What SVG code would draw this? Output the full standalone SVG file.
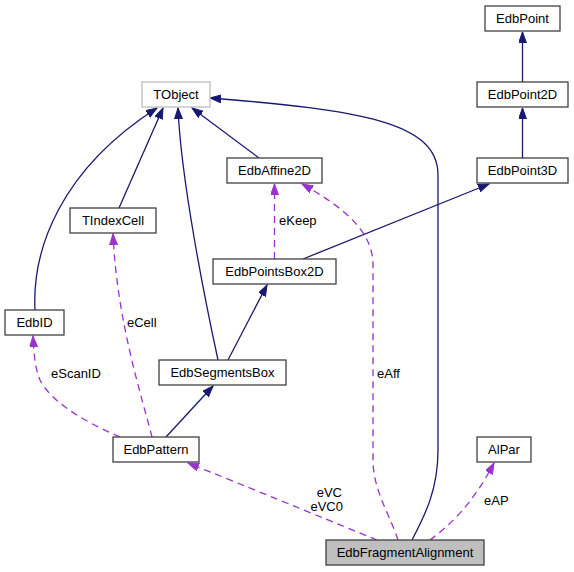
<svg xmlns="http://www.w3.org/2000/svg" width="574" height="572" viewBox="0 0 574 572">
<style>
.n rect{fill:#fff;stroke:#404040;stroke-width:1.3}
.n text{font-family:"Liberation Sans",Arial,sans-serif;font-size:13px;fill:#000;text-anchor:middle}
.e path{fill:none}
.inh{stroke:#191970;stroke-width:1.3}
.use{stroke:#9a32cd;stroke-width:1.3;stroke-dasharray:7,5}
.lbl{font-family:"Liberation Sans",Arial,sans-serif;font-size:13px;fill:#000}
</style>
<defs>
<marker id="an" markerUnits="userSpaceOnUse" markerWidth="12" markerHeight="9" refX="11" refY="4" orient="auto"><path d="M0,0 L11,4 L0,8 z" fill="#191970" stroke="#191970"/></marker>
<marker id="ap" markerUnits="userSpaceOnUse" markerWidth="12" markerHeight="9" refX="11" refY="4" orient="auto"><path d="M0,0 L11,4 L0,8 z" fill="#9a32cd" stroke="#9a32cd"/></marker>
</defs>
<rect width="574" height="572" fill="#fff"/>
<g id="edges" class="e">
<path class="inh" d="M522.5,82 L522.5,32" marker-end="url(#an)"/>
<path class="inh" d="M522.5,158 L522.5,108" marker-end="url(#an)"/>
<path class="inh" d="M303,259 L489,184" marker-end="url(#an)"/>
<path class="inh" d="M259,158 L192,108" marker-end="url(#an)"/>
<path class="inh" d="M218,360 C205,300 181,180 178,108" marker-end="url(#an)"/>
<path class="inh" d="M119,208 L163,108" marker-end="url(#an)"/>
<path class="inh" d="M35,310 C32,250 60,170 157,108" marker-end="url(#an)"/>
<path class="inh" d="M412,540 C425,515 438,490 438,450 L438,175 C438,122 360,110 210,98" marker-end="url(#an)"/>
<path class="inh" d="M228,360 L267,285" marker-end="url(#an)"/>
<path class="inh" d="M166,437 L213,386" marker-end="url(#an)"/>
<path class="use" d="M274.5,259 L274.5,184" marker-end="url(#ap)"/>
<path class="use" d="M398,540 C390,515 373,490 373,460 L373,265 C373,232 345,208 302,184" marker-end="url(#ap)"/>
<path class="use" d="M152,437 C140,390 117,320 113,234" marker-end="url(#ap)"/>
<path class="use" d="M120,437 C80,420 50,400 40,380 C35,368 34,355 33,336" marker-end="url(#ap)"/>
<path class="use" d="M377,540 C340,525 280,500 188,463" marker-end="url(#ap)"/>
<path class="use" d="M430,540 C450,525 472,505 494,463" marker-end="url(#ap)"/>
<text class="lbl" x="279" y="225">eKeep</text>
<text class="lbl" x="377" y="378">eAff</text>
<text class="lbl" x="127" y="327">eCell</text>
<text class="lbl" x="51" y="378">eScanID</text>
<text class="lbl" x="342" y="497" text-anchor="end">eVC</text>
<text class="lbl" x="343" y="511" text-anchor="end">eVC0</text>
<text class="lbl" x="484" y="505">eAP</text>
</g>
<g id="TObject" class="n"><rect x="142" y="82" width="68" height="25" style="stroke:#bfbfbf"/><text x="176" y="99">TObject</text></g>
<g id="EdbPoint" class="n"><rect x="485" y="6" width="75" height="25"/><text x="522.5" y="23">EdbPoint</text></g>
<g id="EdbPoint2D" class="n"><rect x="477" y="82" width="91" height="25"/><text x="522.5" y="99">EdbPoint2D</text></g>
<g id="EdbPoint3D" class="n"><rect x="477" y="158" width="91" height="25"/><text x="522.5" y="175">EdbPoint3D</text></g>
<g id="EdbAffine2D" class="n"><rect x="227" y="158" width="95" height="25"/><text x="274.5" y="175">EdbAffine2D</text></g>
<g id="TIndexCell" class="n"><rect x="70" y="208" width="86" height="25"/><text x="113" y="225">TIndexCell</text></g>
<g id="EdbPointsBox2D" class="n"><rect x="213" y="259" width="123" height="25"/><text x="274.5" y="276">EdbPointsBox2D</text></g>
<g id="EdbID" class="n"><rect x="5" y="310" width="59" height="25"/><text x="34.5" y="327">EdbID</text></g>
<g id="EdbSegmentsBox" class="n"><rect x="159" y="360" width="127" height="25"/><text x="222.5" y="377">EdbSegmentsBox</text></g>
<g id="EdbPattern" class="n"><rect x="113" y="437" width="86" height="25"/><text x="156" y="454">EdbPattern</text></g>
<g id="AlPar" class="n"><rect x="477" y="437" width="54" height="25"/><text x="504" y="454">AlPar</text></g>
<g id="EdbFragmentAlignment" class="n"><rect x="326" y="540" width="158" height="25" style="fill:#bfbfbf"/><text x="405" y="557">EdbFragmentAlignment</text></g>
</svg>
